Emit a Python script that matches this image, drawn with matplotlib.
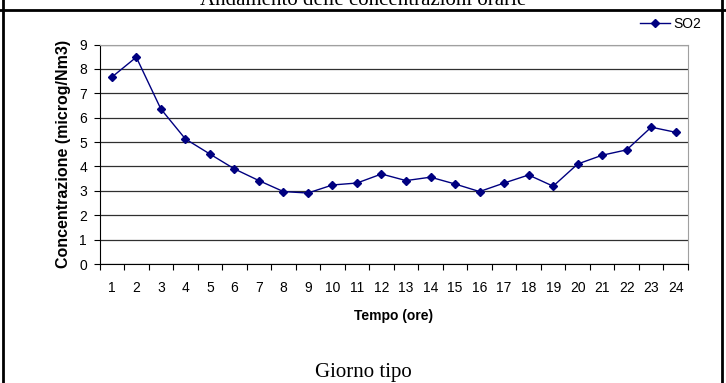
import matplotlib
matplotlib.use("Agg")
import matplotlib.pyplot as plt
from matplotlib.lines import Line2D
import numpy as np

# ore del giorno e concentrazioni medie SO2
ore = list(range(1, 25))
so2 = [7.66, 8.48, 6.36, 5.13, 4.51, 3.90, 3.42, 2.97, 2.91, 3.24, 3.32, 3.69,
       3.42, 3.56, 3.28, 2.97, 3.32, 3.65, 3.19, 4.10, 4.46, 4.68, 5.61, 5.40]
yticks = list(range(0, 10))

narrow = ['Liberation Sans Narrow', 'Liberation Sans', 'DejaVu Sans']
serif = ['Liberation Serif', 'DejaVu Serif']
navy = '#000080'

fig = plt.figure(figsize=(7.26, 3.83), dpi=100)
ax = fig.add_axes([99.5 / 726, 1 - 264 / 383, (688 - 99.5) / 726, (264 - 44.5) / 383])

ax.plot(ore, so2, color=navy, lw=1, marker='D', ms=4.5, mfc=navy, mec=navy, label='SO2')

ax.set_xlim(0.5, 24.5)
ax.set_ylim(0, 9)
ax.set_yticks(yticks)
ax.set_xticks(ore)
ax.set_xticks(np.arange(0.5, 25, 1), minor=True)
ax.tick_params(axis='x', which='major', length=0, pad=12)
ax.tick_params(axis='x', which='minor', length=4, direction='out', width=0.8)
ax.tick_params(axis='y', length=4, direction='out', width=0.8, pad=5)
for lab in ax.get_xticklabels() + ax.get_yticklabels():
    lab.set_family(narrow)
    lab.set_fontsize(10)

ax.grid(axis='y', color='#303030', lw=0.9)
ax.set_axisbelow(True)
for s in ['top', 'right']:
    ax.spines[s].set_color('#a0a0a0')
for s in ['left', 'bottom']:
    ax.spines[s].set_color('black')

ax.set_xlabel('Tempo (ore)', family=narrow, fontweight='bold', fontsize=10, labelpad=10)
ax.set_ylabel('Concentrazione (microg/Nm3)', family=['Liberation Sans', 'DejaVu Sans'],
              fontweight='bold', fontsize=11.5, labelpad=6)

leg = ax.legend(loc='lower right', bbox_to_anchor=(708 / 726, 1 - 38 / 383),
                bbox_transform=fig.transFigure, frameon=False, handlelength=2.2,
                handletextpad=0.2, borderpad=0, prop={'family': narrow, 'size': 10})

# testo e cornice del documento
fig.text(0.5, 1 - 5 / 383, 'Andamento delle concentrazioni orarie', ha='center',
         va='baseline', family=serif, fontsize=15)
fig.text(0.5, 1 - 377 / 383, 'Giorno tipo', ha='center', va='baseline',
         family=serif, fontsize=15)
fig.add_artist(Line2D([0, 1], [1 - 10 / 383, 1 - 10 / 383], color='black', lw=2))
fig.add_artist(Line2D([3 / 726, 3 / 726], [0, 1], color='black', lw=2))
fig.add_artist(Line2D([722 / 726, 722 / 726], [0, 1], color='black', lw=2))

fig.savefig('out.png', dpi=100)
